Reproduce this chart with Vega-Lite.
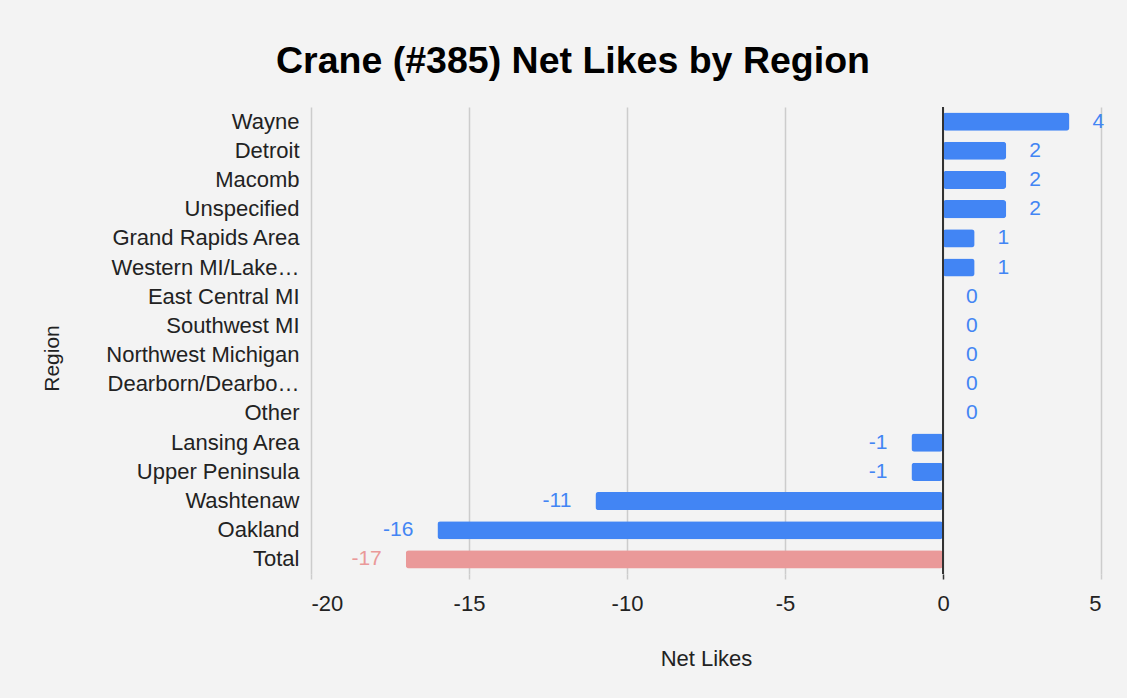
{
  "$schema": "https://vega.github.io/schema/vega-lite/v6.json",
  "width": 790,
  "height": 467,
  "autosize": {"type": "none"},
  "padding": {"left": 311, "top": 107, "right": 26, "bottom": 124},
  "background": "#f3f3f3",
  "config": {
    "view": {"stroke": null},
    "font": "Liberation Sans"
  },
  "title": {
    "text": "Crane (#385) Net Likes by Region",
    "fontSize": 37.5,
    "fontWeight": "bold",
    "font": "Liberation Sans",
    "color": "#000000",
    "anchor": "middle",
    "dx": -133,
    "dy": 38,
    "baseline": "alphabetic",
    "offset": 34
  },
  "data": {
    "values": [
      {"Region": "Wayne", "NetLikes": 4, "Group": "Region"},
      {"Region": "Detroit", "NetLikes": 2, "Group": "Region"},
      {"Region": "Macomb", "NetLikes": 2, "Group": "Region"},
      {"Region": "Unspecified", "NetLikes": 2, "Group": "Region"},
      {"Region": "Grand Rapids Area", "NetLikes": 1, "Group": "Region"},
      {"Region": "Western MI/Lake…", "NetLikes": 1, "Group": "Region"},
      {"Region": "East Central MI", "NetLikes": 0, "Group": "Region"},
      {"Region": "Southwest MI", "NetLikes": 0, "Group": "Region"},
      {"Region": "Northwest Michigan", "NetLikes": 0, "Group": "Region"},
      {"Region": "Dearborn/Dearbo…", "NetLikes": 0, "Group": "Region"},
      {"Region": "Other", "NetLikes": 0, "Group": "Region"},
      {"Region": "Lansing Area", "NetLikes": -1, "Group": "Region"},
      {"Region": "Upper Peninsula", "NetLikes": -1, "Group": "Region"},
      {"Region": "Washtenaw", "NetLikes": -11, "Group": "Region"},
      {"Region": "Oakland", "NetLikes": -16, "Group": "Region"},
      {"Region": "Total", "NetLikes": -17, "Group": "Total"}
    ]
  },
  "encoding": {
    "y": {
      "field": "Region",
      "type": "nominal",
      "sort": null,
      "scale": {"paddingInner": 0.38, "paddingOuter": 0.19},
      "axis": {
        "title": "Region",
        "titleFontSize": 21,
        "titleFontWeight": "normal",
        "titleColor": "#222222",
        "titleAngle": -90,
        "titleX": -259,
        "titleY": 251,
        "titleAlign": "center",
        "titleBaseline": "middle",
        "labelFontSize": 22,
        "labelColor": "#222222",
        "labelPadding": 12,
        "labelLimit": 400,
        "ticks": false,
        "domain": false
      }
    },
    "x": {
      "field": "NetLikes",
      "type": "quantitative",
      "scale": {"domain": [-20, 5], "nice": false},
      "axis": {
        "title": "Net Likes",
        "titleFontSize": 22,
        "titleFontWeight": "normal",
        "titleColor": "#222222",
        "titleY": 91,
        "titleBaseline": "alphabetic",
        "values": [-20, -15, -10, -5, 0, 5],
        "labelExpr": "toString(datum.value)",
        "labelFontSize": 22,
        "labelColor": "#222222",
        "labelBaseline": "alphabetic",
        "labelPadding": 31,
        "tickSize": 5,
        "tickColor": {"condition": {"test": "datum.value === 0", "value": "#333333"}, "value": "#cccccc"},
        "gridColor": "#cccccc",
        "gridWidth": 1.5,
        "tickWidth": 1.5,
        "domain": false
      }
    }
  },
  "layer": [
    {
      "mark": {"type": "bar", "cornerRadius": 3},
      "encoding": {
        "color": {
          "field": "Group",
          "type": "nominal",
          "scale": {"domain": ["Region", "Total"], "range": ["#4285f4", "#ea9999"]},
          "legend": null
        }
      }
    },
    {
      "transform": [{"filter": "datum.NetLikes >= 0"}],
      "mark": {"type": "text", "align": "left", "baseline": "middle", "dx": 23, "fontSize": 21},
      "encoding": {
        "text": {"field": "NetLikes", "type": "nominal"},
        "color": {
          "field": "Group",
          "type": "nominal",
          "scale": {"domain": ["Region", "Total"], "range": ["#4285f4", "#ea9999"]},
          "legend": null
        }
      }
    },
    {
      "transform": [{"filter": "datum.NetLikes < 0"}],
      "mark": {"type": "text", "align": "right", "baseline": "middle", "dx": -24, "fontSize": 21},
      "encoding": {
        "text": {"field": "NetLikes", "type": "nominal"},
        "color": {
          "field": "Group",
          "type": "nominal",
          "scale": {"domain": ["Region", "Total"], "range": ["#4285f4", "#ea9999"]},
          "legend": null
        }
      }
    },
    {
      "mark": {"type": "rule", "color": "#333333", "strokeWidth": 1.5},
      "encoding": {"x": {"datum": 0}, "y": null}
    }
  ]
}
